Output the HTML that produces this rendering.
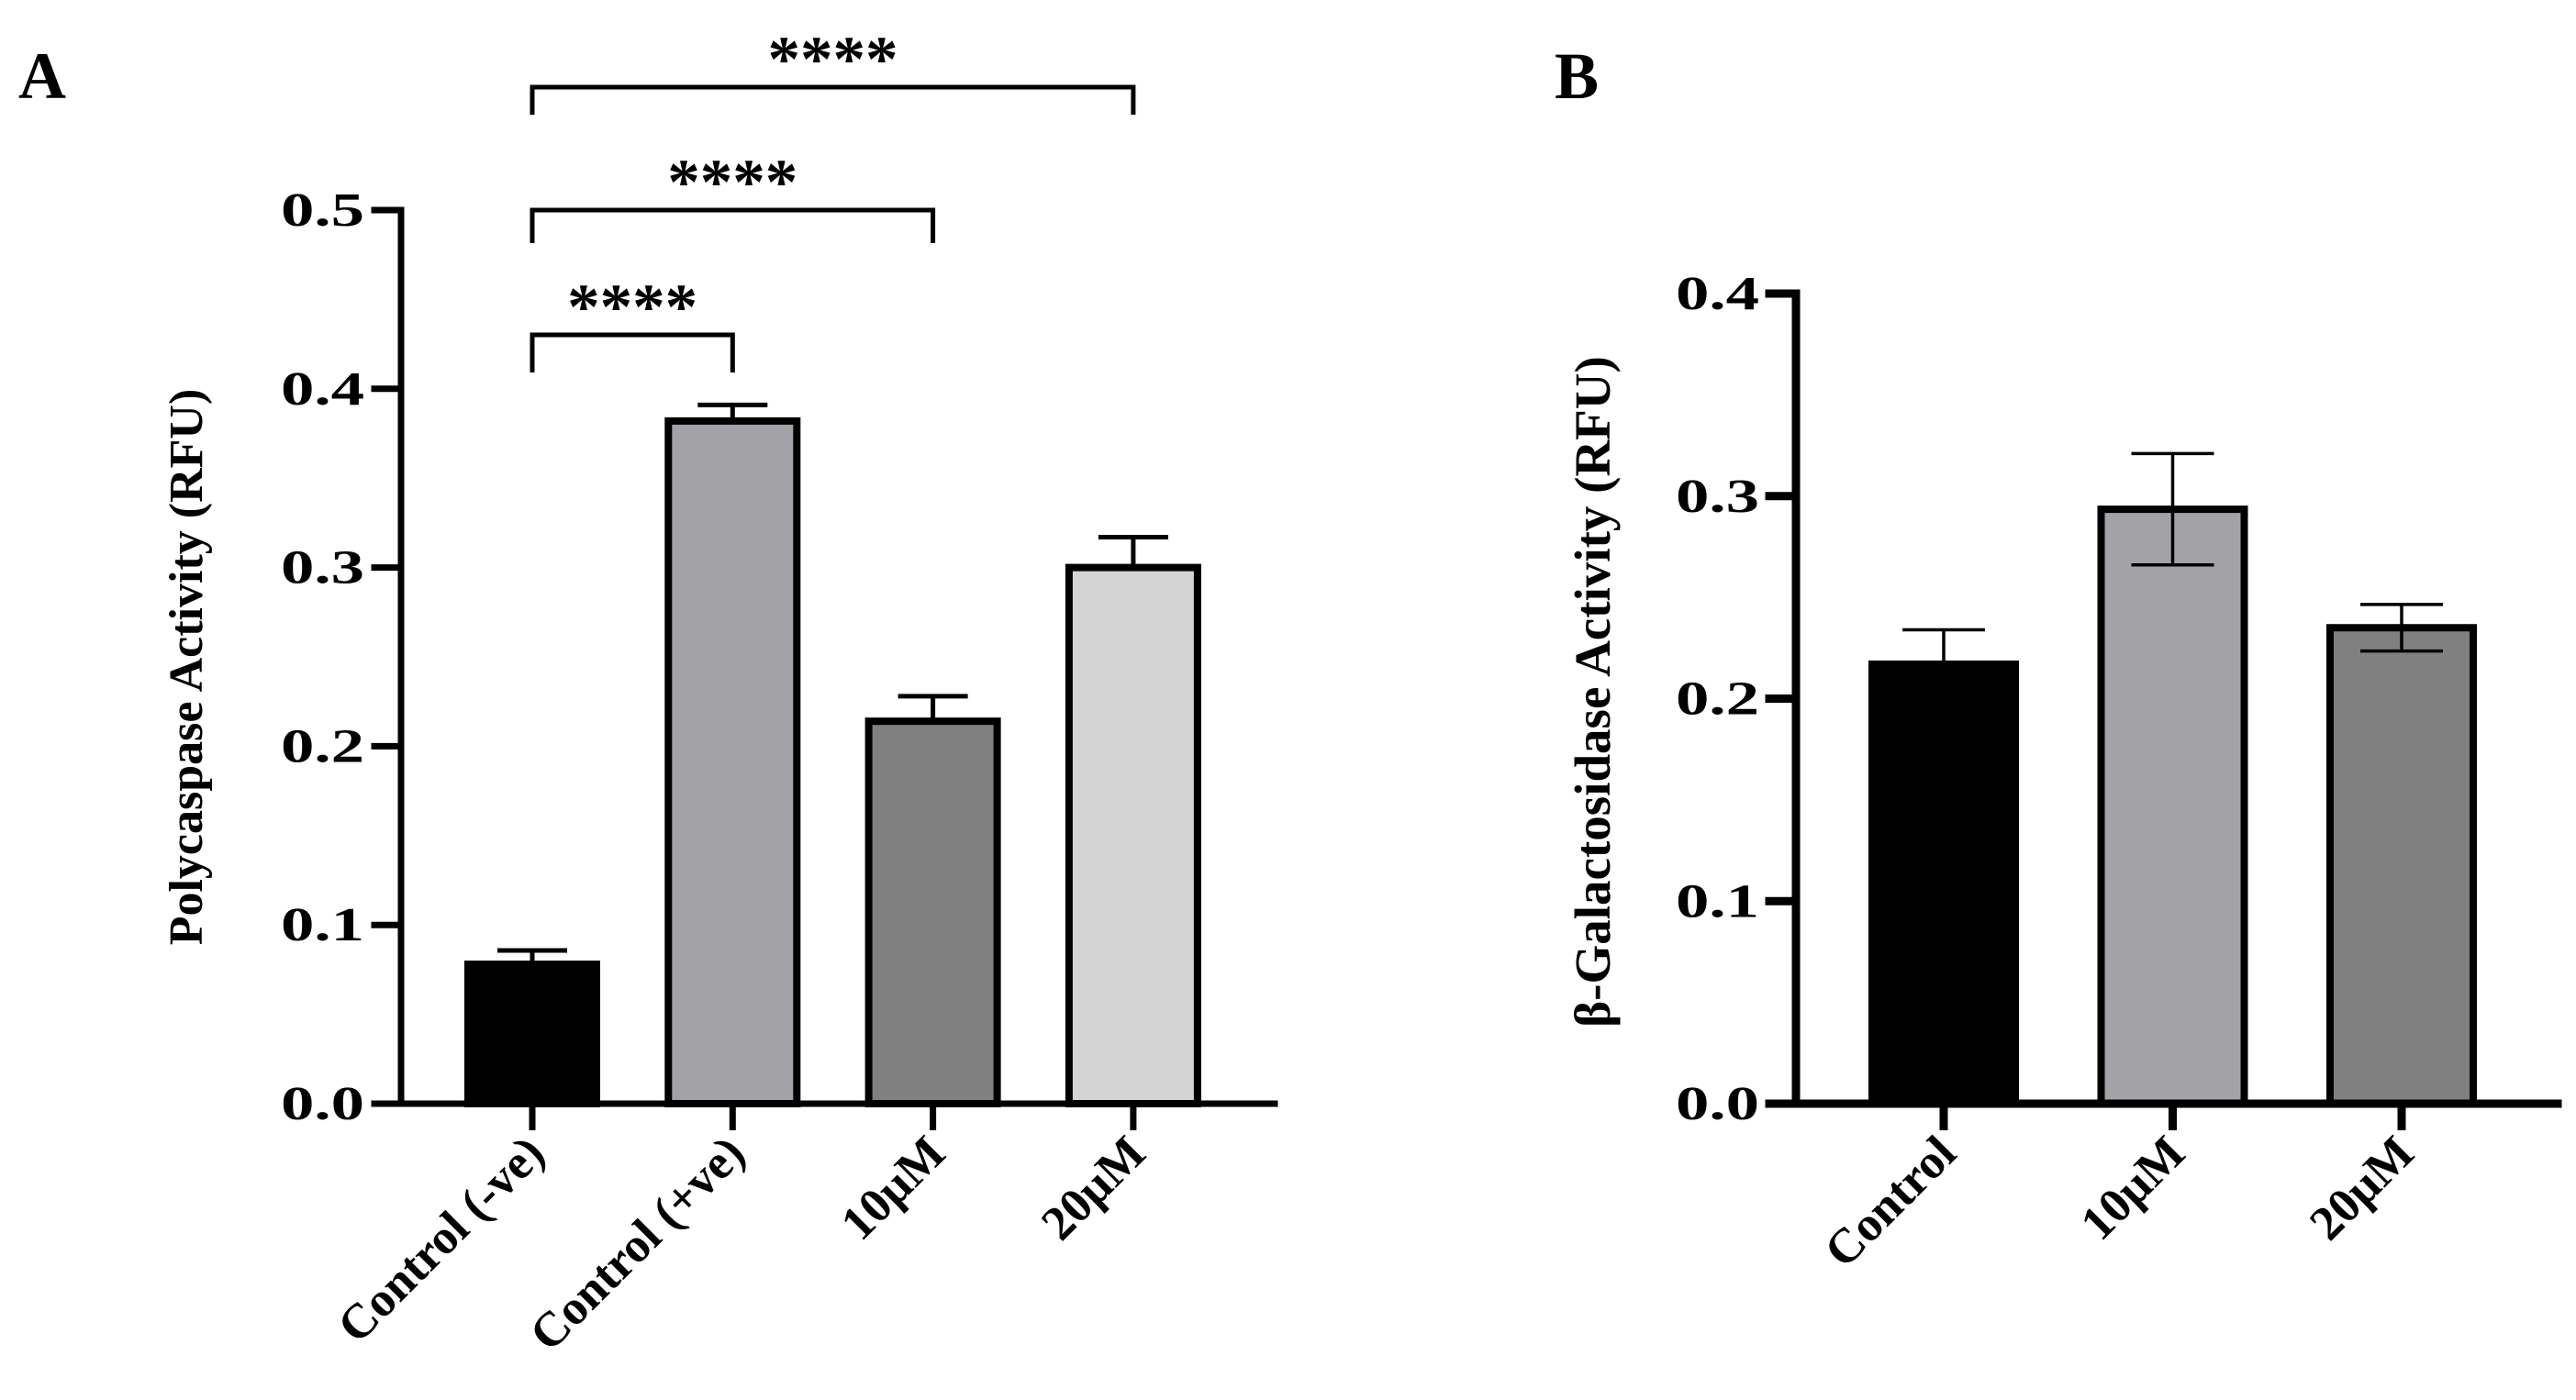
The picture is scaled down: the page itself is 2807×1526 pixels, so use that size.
<!DOCTYPE html>
<html><head><meta charset="utf-8"><style>
html,body{margin:0;padding:0;background:#fff;}
svg text{font-family:"Liberation Serif",serif;font-weight:bold;fill:#000;}
</style></head><body>
<svg id="c" width="2807" height="1521" viewBox="0 0 2807 1521" xmlns="http://www.w3.org/2000/svg"></svg>
<script>
const catsA = ["Control (-ve)", "Control (+ve)", "10\u00b5M", "20\u00b5M"];
const valsA = [0.078, 0.382, 0.214, 0.300];
const errA = [0.0077, 0.009, 0.014, 0.017];
const fillsA = ["#000000", "#a3a2a7", "#808080", "#d4d4d4"];
const ticksA = [0.0, 0.1, 0.2, 0.3, 0.4, 0.5];
const sigA = [[0,1,"****"],[0,2,"****"],[0,3,"****"]];

const catsB = ["Control", "10\u00b5M", "20\u00b5M"];
const valsB = [0.217, 0.2935, 0.235];
const errB = [0.017, 0.0275, 0.0115];
const fillsB = ["#000000", "#a3a2a7", "#808080"];
const ticksB = [0.0, 0.1, 0.2, 0.3, 0.4];

const svg = document.getElementById('c');
const NS = "http://www.w3.org/2000/svg";
function mk(tag, attrs, parent){
  const e = document.createElementNS(NS, tag);
  for (const k in attrs) e.setAttribute(k, attrs[k]);
  (parent||svg).appendChild(e);
  return e;
}

function panel(o){
  const g = mk('g', {});
  
  
  const y = v => o.y0 - (v / o.ymax) * (o.y0 - o.yTop);
  const x = i => o.x0c + i * o.step;
  o.vals.forEach((v, i) => {
    const hw = o.barW / 2;
    const r = mk('rect', {x: x(i) - hw, y: y(v), width: o.barW, height: o.y0 - y(v), fill: o.fills[i], stroke: '#000', 'stroke-width': o.bw}, g);
    
    
    const e = o.err[i];
    const eg = mk('g', {stroke: '#000', 'stroke-width': o.ew, fill: 'none'}, g);
    
    
    const lo = o.twoSided ? v - e : v;
    mk('line', {x1: x(i), x2: x(i), y1: y(v + e), y2: y(lo)}, eg);
    mk('line', {x1: x(i) - o.cap, x2: x(i) + o.cap, y1: y(v + e), y2: y(v + e)}, eg);
    if (o.twoSided) mk('line', {x1: x(i) - o.cap, x2: x(i) + o.cap, y1: y(lo), y2: y(lo)}, eg);
  });
  const ax = mk('g', {stroke: '#000', 'stroke-width': o.aw, fill: 'none', 'stroke-linecap': 'square'}, g);
  
  
  mk('line', {x1: o.ax, x2: o.ax, y1: o.yTop, y2: o.y0}, ax);
  mk('line', {x1: o.ax - o.tl, x2: o.xEnd, y1: o.y0, y2: o.y0}, ax);
  o.ticks.forEach(t => {
    mk('line', {x1: o.ax - o.tl, x2: o.ax, y1: y(t), y2: y(t)}, ax);
    const tx = mk('text', {x: o.ax - 40 - 91, y: y(t) + 17, 'font-size': 52, textLength: 91, lengthAdjust: 'spacingAndGlyphs'}, g);
    tx.textContent = t.toFixed(1);
    
    
  });
  o.cats.forEach((c, i) => {
    mk('line', {x1: x(i), x2: x(i), y1: o.y0, y2: o.y0 + o.tl, 'stroke-linecap': 'butt'}, ax);
    const tx = mk('text', {x: 0, y: 0, 'text-anchor': 'end', 'font-size': 53,
      transform: 'translate(' + (x(i) + 16) + ',' + (o.y0 + o.tl + 28) + ') rotate(-45)'}, g);
    tx.textContent = c;
    
    
  });
  const yt = mk('text', {x: 0, y: 0, 'text-anchor': 'middle', 'font-size': o.tfs,
    transform: 'translate(' + o.titleX + ',' + o.titleY + ') rotate(-90)'}, g);
  yt.textContent = o.title;
  
  
  const pl = mk('text', {x: o.lx, y: o.ly, 'font-size': 72}, g);
  pl.textContent = o.label;
  
  
  return {g, x, y};
}

const A = panel({name: 'panel-a', cats: catsA, vals: valsA, err: errA, fills: fillsA, ticks: ticksA,
  ymax: 0.5, y0: 1203, yTop: 229, ax: 437, xEnd: 1389, x0c: 580, step: 218.3, barW: 140, bw: 8,
  ew: 5, cap: 38, aw: 7, tl: 29, tfs: 52, twoSided: false,
  title: 'Polycaspase Activity (RFU)', titleX: 220, titleY: 727, label: 'A', lx: 20, ly: 107});

const sigY = [365, 229, 95];
const sigDrop = [41, 36, 30];
sigA.forEach((s, k) => {
  const bg = mk('g', {stroke: '#000', 'stroke-width': 5, fill: 'none'});
  
  
  const x1 = A.x(s[0]), x2 = A.x(s[1]), yy = sigY[k], d = sigDrop[k];
  mk('polyline', {points: x1 + ',' + (yy + d) + ' ' + x1 + ',' + yy + ' ' + x2 + ',' + yy + ' ' + x2 + ',' + (yy + d)}, bg);
  const t = mk('text', {x: (x1 + x2) / 2, y: yy - 7, 'text-anchor': 'middle', 'font-size': 71, 'font-family': '"Liberation Sans", sans-serif'});
  t.textContent = s[2];
  
  
});

panel({name: 'panel-b', cats: catsB, vals: valsB, err: errB, fills: fillsB, ticks: ticksB,
  ymax: 0.4, y0: 1203, yTop: 320, ax: 1957, xEnd: 2787, x0c: 2118, step: 249.5, barW: 156, bw: 8,
  ew: 3.5, cap: 45, aw: 9, tl: 29, tfs: 55, twoSided: true,
  title: '\u03b2-Galactosidase Activity (RFU)', titleX: 1754, titleY: 754, label: 'B', lx: 1694, ly: 107});
</script>
</body></html>
